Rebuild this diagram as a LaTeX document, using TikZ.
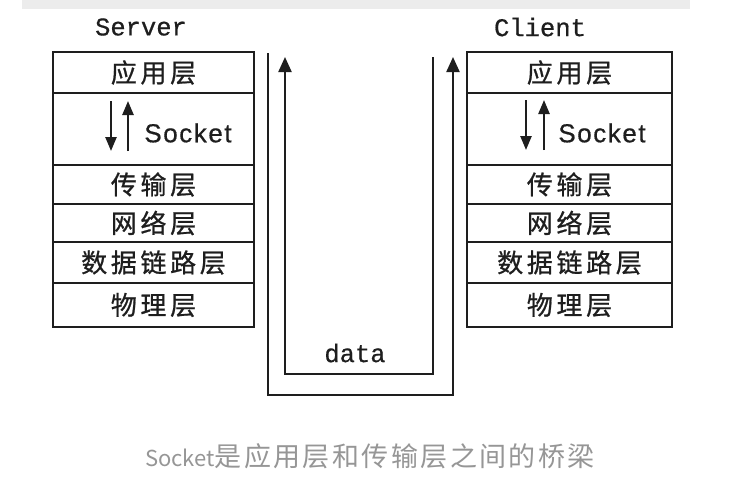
\documentclass[tikz,border=0pt]{standalone}
\usepackage{fontspec}
\usetikzlibrary{arrows.meta}
\newfontfamily\cjkfont[LetterSpace=14,FakeBold=0.8]{Noto Sans CJK SC}
\newfontfamily\capcjk[LetterSpace=9]{Noto Sans CJK SC}
\newfontfamily\capfont{Noto Sans CJK SC}
\newfontfamily\monofont[FakeBold=0.6]{Liberation Mono}
\newfontfamily\sockfont[LetterSpace=6,FakeBold=0.6]{Liberation Sans}
\definecolor{capgray}{RGB}{150,150,150}
\definecolor{bargray}{RGB}{236,236,236}
\definecolor{ink}{RGB}{30,30,30}
\begin{document}
\begin{tikzpicture}[x=1pt,y=-1pt,
  layer/.style={draw=ink, line width=2.2pt, inner sep=0pt, text=ink,
    font=\cjkfont\fontsize{26}{26}\selectfont},
  lbox/.style={layer, minimum width=201pt},
  rbox/.style={layer, minimum width=205pt},
  monotext/.style={text=ink, inner sep=0pt, font=\monofont\fontsize{25.5}{26}\selectfont},
  socktext/.style={text=ink, inner sep=0pt, font=\sockfont\fontsize{26}{26}\selectfont},
  sockarrow/.style={draw=ink, line width=2.4pt, -{Triangle[length=14pt,width=11pt]}},
  flow/.style={draw=ink, line width=2.2pt},
  flowarrow/.style={flow, -{Triangle[length=15pt,width=13pt]}}
]
\useasboundingbox (0,0) rectangle (740,480);
\fill[white] (0,0) rectangle (740,480);
\fill[bargray] (22,0) rectangle (690,9);

% titles
\node[monotext] (server) at (141,27) {Server};
\node[monotext] (client) at (540,27) {Client};

% left stack
\node[lbox, minimum height=41pt] (sapp)  at (153.5,72.5) {应用层};
\node[lbox, minimum height=72pt] (ssock) at (153.5,129) {};
\node[lbox, minimum height=39pt] (strans) at (153.5,184.5) {传输层};
\node[lbox, minimum height=38pt] (snet)  at (153.5,223) {网络层};
\node[lbox, minimum height=41pt] (slink) at (153.5,262.5) {数据链路层};
\node[lbox, minimum height=44pt] (sphy)  at (153.5,305) {物理层};
\node[socktext] (slabel) at (188,133) {Socket};
\coordinate (sd1) at (111,101);
\coordinate (sd2) at (111,151);
\coordinate (su1) at (128,151);
\coordinate (su2) at (128,101);
\draw[sockarrow] (sd1) -- (sd2);
\draw[sockarrow] (su1) -- (su2);

% right stack
\node[rbox, minimum height=41pt] (capp)  at (569.5,72.5) {应用层};
\node[rbox, minimum height=72pt] (csock) at (569.5,129) {};
\node[rbox, minimum height=39pt] (ctrans) at (569.5,184.5) {传输层};
\node[rbox, minimum height=38pt] (cnet)  at (569.5,223) {网络层};
\node[rbox, minimum height=41pt] (clink) at (569.5,262.5) {数据链路层};
\node[rbox, minimum height=44pt] (cphy)  at (569.5,305) {物理层};
\node[socktext] (clabel) at (602,133) {Socket};
\coordinate (cd1) at (526,100);
\coordinate (cd2) at (526,150);
\coordinate (cu1) at (544,150);
\coordinate (cu2) at (544,100);
\draw[sockarrow] (cd1) -- (cd2);
\draw[sockarrow] (cu1) -- (cu2);

% data paths
\coordinate (o1) at (268,53);
\coordinate (o2) at (268,395);
\coordinate (o3) at (453,395);
\coordinate (o4) at (453,57);
\draw[flowarrow] (o1) -- (o2) -- (o3) -- (o4);
\coordinate (i1) at (433,57);
\coordinate (i2) at (433,374);
\coordinate (i3) at (285,374);
\coordinate (i4) at (285,57);
\draw[flowarrow] (i1) -- (i2) -- (i3) -- (i4);
\node[monotext] (data) at (355,353) {data};

% caption
\node[text=capgray, inner sep=0pt] (caption) at (370,456)
  {{\capfont\fontsize{22}{24}\selectfont Socket}{\capcjk\fontsize{27}{27}\selectfont 是应用层和传输层之间的桥梁}};
\end{tikzpicture}
\end{document}
